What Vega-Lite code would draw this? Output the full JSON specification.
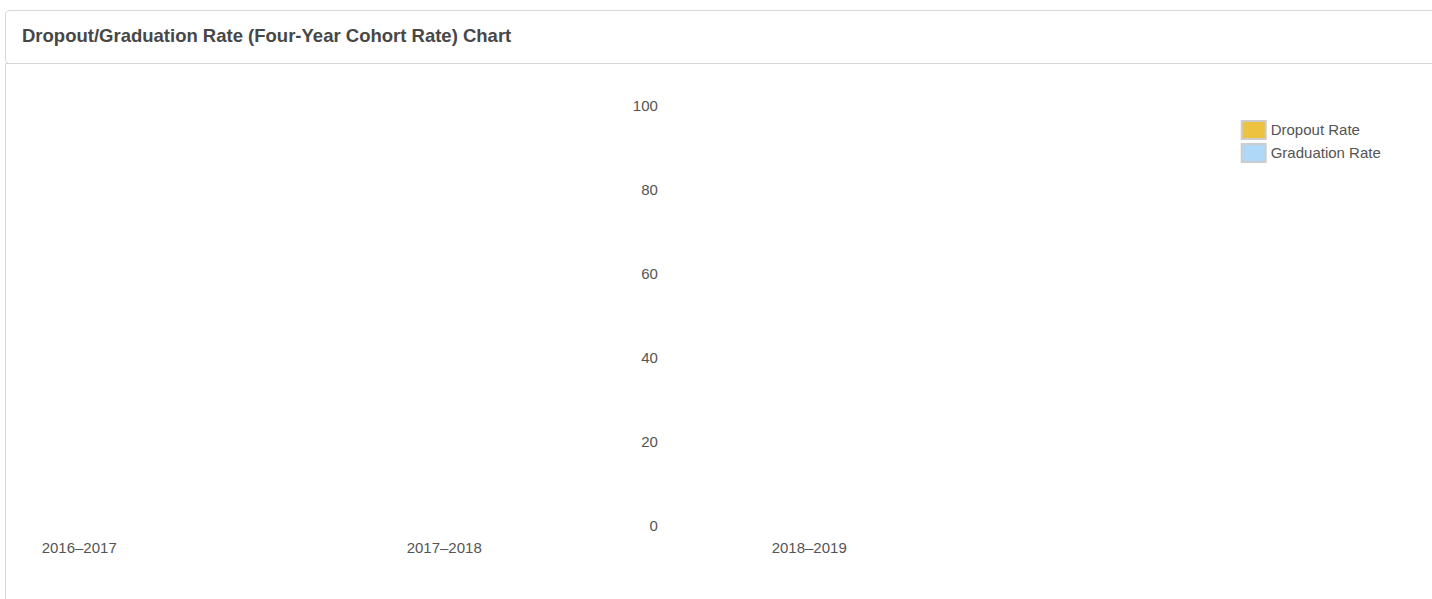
{
  "$schema": "https://vega.github.io/schema/vega-lite/v6.json",
  "autosize": {"type": "pad"},
  "padding": {"left": 4, "top": 9, "right": 0, "bottom": 0},
  "background": "white",
  "bounds": "flush",
  "spacing": 0,
  "config": {
    "font": "Liberation Sans",
    "view": {"stroke": "#d6d6d6", "strokeWidth": 1}
  },
  "datasets": {
    "rates": [
      {"year": "2016–2017", "series": "Dropout Rate", "rate": null},
      {"year": "2016–2017", "series": "Graduation Rate", "rate": null},
      {"year": "2017–2018", "series": "Dropout Rate", "rate": null},
      {"year": "2017–2018", "series": "Graduation Rate", "rate": null},
      {"year": "2018–2019", "series": "Dropout Rate", "rate": null},
      {"year": "2018–2019", "series": "Graduation Rate", "rate": null}
    ]
  },
  "vconcat": [
    {
      "width": 1460,
      "height": 53,
      "view": {"cornerRadius": 4, "stroke": "#d6d6d6", "strokeWidth": 1, "fill": "white"},
      "title": {
        "text": "Dropout/Graduation Rate (Four-Year Cohort Rate) Chart",
        "anchor": "start",
        "frame": "group",
        "orient": "top",
        "offset": -50.5,
        "baseline": "alphabetic",
        "dx": 17,
        "font": "Liberation Sans",
        "fontSize": 18.5,
        "fontWeight": "bold",
        "color": "#474747"
      },
      "data": {"values": [{"heading": "Dropout/Graduation Rate (Four-Year Cohort Rate) Chart"}]},
      "mark": {"type": "point", "opacity": 0},
      "encoding": {}
    },
    {
      "width": 1460,
      "height": 536,
      "data": {"name": "rates"},
      "mark": {"type": "bar"},
      "encoding": {
        "x": {
          "field": "year",
          "type": "nominal",
          "sort": null,
          "title": null,
          "scale": {
            "type": "point",
            "domain": ["2016–2017", "2017–2018", "2018–2019"],
            "padding": 1.00274,
            "align": 0.04952
          },
          "axis": {
            "orient": "bottom",
            "labelAngle": 0,
            "labelAlign": "left",
            "labelBaseline": "alphabetic",
            "labelPadding": 0,
            "offset": -46.3,
            "ticks": false,
            "domain": false,
            "grid": false,
            "labelFont": "Liberation Sans",
            "labelFontSize": 15,
            "labelColor": "#545454",
            "labelOverlap": false
          }
        },
        "y": {
          "field": "rate",
          "type": "quantitative",
          "title": null,
          "scale": {"domain": [-17.48, 110], "nice": false, "zero": false},
          "axis": {
            "orient": "left",
            "values": [0, 20, 40, 60, 80, 100],
            "labelAlign": "right",
            "labelBaseline": "middle",
            "labelPadding": 0,
            "offset": -652.4,
            "ticks": false,
            "domain": false,
            "grid": false,
            "labelFont": "Liberation Sans",
            "labelFontSize": 15,
            "labelColor": "#545454"
          }
        },
        "color": {
          "field": "series",
          "type": "nominal",
          "scale": {
            "domain": ["Dropout Rate", "Graduation Rate"],
            "range": ["#edc240", "#afd8f8"]
          },
          "legend": {
            "title": null,
            "orient": "none",
            "legendX": 1238.7,
            "legendY": 110,
            "padding": 0,
            "symbolType": "M-1.333,-1H1.333V1H-1.333Z",
            "symbolSize": 324,
            "symbolStrokeColor": "#cccccc",
            "symbolStrokeWidth": 2,
            "rowPadding": -3.3,
            "labelOffset": 7,
            "labelFont": "Liberation Sans",
            "labelFontSize": 15,
            "labelColor": "#545454",
            "labelBaseline": "middle",
            "symbolOpacity": 1
          }
        }
      }
    }
  ]
}
